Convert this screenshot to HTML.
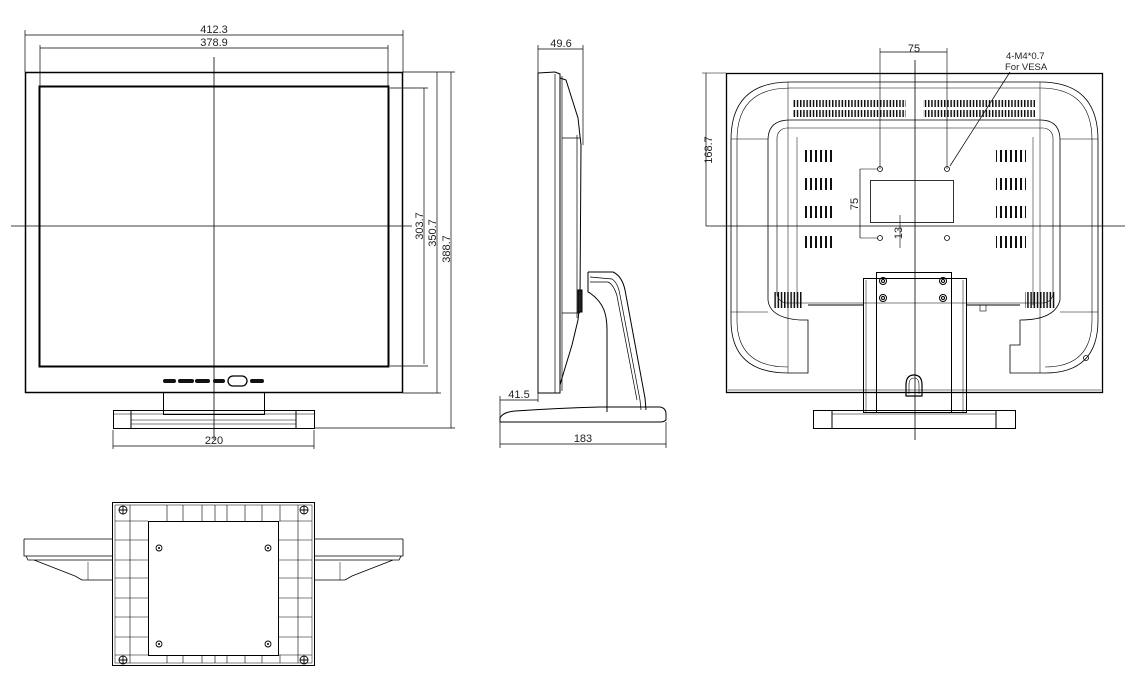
<!DOCTYPE html>
<html><head><meta charset="utf-8"><style>
html,body{margin:0;padding:0;background:#fff;width:1134px;height:688px;overflow:hidden}
svg text{font-family:"Liberation Sans",sans-serif;font-size:11px;fill:#222}
</style></head><body>
<svg width="1134" height="688" viewBox="0 0 1134 688" xmlns="http://www.w3.org/2000/svg">
<defs>
<pattern id="vs" width="3.2" height="10" patternUnits="userSpaceOnUse"><rect x="0" y="0" width="1.5" height="10" fill="#111"/></pattern>
<pattern id="vs2" width="5" height="10" patternUnits="userSpaceOnUse"><rect x="0" y="0" width="2" height="10" fill="#111"/></pattern>
</defs>
<g fill="none" stroke="#000" stroke-width="1">
<!-- FRONT VIEW -->
<line x1="25" y1="35" x2="403" y2="35" stroke-width="0.7"/>
<line x1="25" y1="30" x2="25" y2="72" stroke-width="0.7"/>
<line x1="403" y1="30" x2="403" y2="72" stroke-width="0.7"/>
<line x1="40" y1="48" x2="388" y2="48" stroke-width="0.7"/>
<line x1="40" y1="45" x2="40" y2="86" stroke-width="0.7"/>
<line x1="388" y1="45" x2="388" y2="86" stroke-width="0.7"/>
<rect x="25.5" y="72.5" width="377" height="320" stroke-width="1.5"/>
<rect x="39.5" y="86.5" width="349" height="280" stroke-width="2"/>
<line x1="214" y1="57" x2="214" y2="440" stroke-width="0.8"/>
<line x1="11" y1="226" x2="412" y2="226" stroke-width="0.8"/>
<g fill="#111" stroke="none">
<rect x="163" y="379" width="13" height="4" rx="2"/><rect x="178" y="379" width="16" height="4" rx="2"/>
<rect x="195" y="379" width="15" height="4" rx="2"/><rect x="213" y="379" width="12" height="4" rx="2"/>
<rect x="250" y="379" width="14" height="4" rx="2"/></g>
<rect x="228" y="376" width="19" height="10" rx="5" stroke-width="1.3"/>
<rect x="163.5" y="392.5" width="101" height="22"/>
<rect x="113.5" y="410.5" width="201" height="18"/>
<line x1="131" y1="410" x2="131" y2="428"/><line x1="296" y1="410" x2="296" y2="428"/>
<line x1="114" y1="414" x2="314" y2="414" stroke-width="0.6"/><line x1="131" y1="420" x2="296" y2="420" stroke-width="0.6"/><line x1="131" y1="424" x2="296" y2="424" stroke-width="0.6"/>
<line x1="113" y1="430" x2="113" y2="449" stroke-width="0.7"/><line x1="314" y1="430" x2="314" y2="449" stroke-width="0.7"/>
<line x1="113" y1="446" x2="314" y2="446" stroke-width="0.7"/>
<line x1="390" y1="88" x2="428" y2="88" stroke-width="0.7"/><line x1="390" y1="366" x2="428" y2="366" stroke-width="0.7"/>
<line x1="424" y1="88" x2="424" y2="364" stroke-width="0.7"/>
<line x1="403" y1="72" x2="455" y2="72" stroke-width="0.7"/><line x1="403" y1="393" x2="441" y2="393" stroke-width="0.7"/>
<line x1="437" y1="72" x2="437" y2="393" stroke-width="0.7"/>
<line x1="315" y1="428" x2="455" y2="428" stroke-width="0.7"/>
<line x1="451" y1="72" x2="451" y2="428" stroke-width="0.7"/>

<!-- SIDE VIEW -->
<line x1="538" y1="49" x2="583" y2="49" stroke-width="0.7"/>
<line x1="538" y1="45" x2="538" y2="73" stroke-width="0.7"/><line x1="583" y1="45" x2="583" y2="145" stroke-width="0.7"/>
<path d="M538 73 L555 72 L560 74 L560 393 L538 393 Z"/>
<line x1="555" y1="74" x2="555" y2="393" stroke-width="0.7"/>
<line x1="562" y1="76" x2="562" y2="391" stroke-width="0.7"/>
<path d="M560 78 L566 80 L578 118 L581 145 L580 300 L578 320 L572 345 L562 378 L560 385" />
<line x1="562" y1="138" x2="580" y2="138" stroke-width="0.7"/>
<line x1="562" y1="313" x2="580" y2="313" stroke-width="0.7"/>
<line x1="577" y1="135" x2="577" y2="318" stroke-width="0.7"/>
<rect x="578" y="290" width="4" height="22" fill="#222"/>
<path d="M588 272 L613 272 Q622 276 625 290 L645 398 L646 410"/>
<path d="M590 277 L612 279 Q618 283 620 295 L640 400 L641 410" stroke-width="0.7"/>
<path d="M590 282 L608 282 Q614 285 617 296 L637 400" stroke-width="0.7"/>
<path d="M588 272 L588 292 L590 293 Q600 300 604 310 Q607 318 607 330 L607 412"/>
<path d="M500 418 Q503 412 515 411 Q560 408 600 407 L660 407 Q666 408 666 414 L666 420 Q664 422 660 422 L500 422 Z"/>
<line x1="500" y1="396" x2="500" y2="448" stroke-width="0.7"/>
<line x1="500" y1="400" x2="538" y2="400" stroke-width="0.7"/>
<line x1="538" y1="393" x2="538" y2="402" stroke-width="0.7"/>
<line x1="666" y1="422" x2="666" y2="448" stroke-width="0.7"/>
<line x1="500" y1="444" x2="666" y2="444" stroke-width="0.7"/>

<!-- BACK VIEW -->
<rect x="726.5" y="73.5" width="376" height="319" stroke-width="1.3"/>
<line x1="728" y1="390" x2="1101" y2="390" stroke-width="0.6"/>
<line x1="880" y1="52" x2="947" y2="52" stroke-width="0.7"/>
<line x1="880" y1="48" x2="880" y2="169" stroke-width="0.6"/><line x1="947" y1="48" x2="947" y2="169" stroke-width="0.6"/>
<line x1="1010" y1="72" x2="950" y2="166" stroke-width="0.7"/>
<line x1="915" y1="60" x2="915" y2="440" stroke-width="0.8"/>
<line x1="706" y1="226" x2="1125" y2="226" stroke-width="0.8"/>
<line x1="702" y1="73" x2="726" y2="73" stroke-width="0.6"/>
<line x1="706" y1="73" x2="706" y2="226" stroke-width="0.7"/>
<path d="M790 82 L1040 82 Q1098 82 1098 140 L1098 320 Q1098 373 1045 373 L1010 373 L1010 345 L1020 345 L1020 320 Q1055 320 1060 300 L1060 140 Q1060 120 1040 120 L790 120 Q768 120 768 140 L768 300 Q770 318 800 320 L808 320 L808 373 L788 373 Q731 373 731 320 L731 140 Q731 82 790 82 Z" stroke-width="0.8"/>
<path d="M790 88 L1040 88 Q1092 88 1092 140 L1092 320 Q1092 367 1045 367" stroke-width="0.6"/>
<path d="M788 367 Q737 367 737 320 L737 140 Q737 88 790 88" stroke-width="0.6"/>
<rect x="777" y="128" width="276" height="175" rx="10" stroke-width="0.6"/>
<line x1="788" y1="82" x2="788" y2="373" stroke-width="0.5"/><line x1="1040" y1="82" x2="1040" y2="373" stroke-width="0.5"/>
<line x1="731" y1="139" x2="768" y2="139" stroke-width="0.5"/><line x1="1060" y1="139" x2="1098" y2="139" stroke-width="0.5"/>
<line x1="731" y1="312" x2="768" y2="312" stroke-width="0.5"/><line x1="1060" y1="312" x2="1098" y2="312" stroke-width="0.5"/>
<line x1="797" y1="137" x2="797" y2="305" stroke-width="0.5"/><line x1="1033" y1="137" x2="1033" y2="305" stroke-width="0.5"/>
<g stroke="none">
<rect x="793" y="100" width="113" height="7" fill="url(#vs)"/><rect x="793" y="110" width="113" height="7" fill="url(#vs)"/>
<rect x="923" y="100" width="112" height="7" fill="url(#vs)"/><rect x="923" y="110" width="112" height="7" fill="url(#vs)"/>
<rect x="803" y="150" width="30" height="12" fill="url(#vs2)"/><rect x="803" y="178" width="30" height="12" fill="url(#vs2)"/>
<rect x="803" y="206" width="30" height="12" fill="url(#vs2)"/><rect x="803" y="236" width="30" height="12" fill="url(#vs2)"/>
<rect x="996" y="150" width="30" height="12" fill="url(#vs2)"/><rect x="996" y="178" width="30" height="12" fill="url(#vs2)"/>
<rect x="996" y="206" width="30" height="12" fill="url(#vs2)"/><rect x="996" y="236" width="30" height="12" fill="url(#vs2)"/>
<rect x="773" y="292" width="30" height="16" fill="url(#vs)"/><rect x="1025" y="292" width="30" height="16" fill="url(#vs)"/>
</g>
<g stroke-width="0.8"><circle cx="880" cy="169" r="2.5"/><circle cx="947" cy="169" r="2.5"/><circle cx="880" cy="238" r="2.5"/><circle cx="947" cy="238" r="2.5"/></g>
<rect x="870.5" y="180.5" width="83" height="42" stroke-width="0.8"/>
<line x1="860" y1="169" x2="860" y2="238" stroke-width="0.7"/>
<line x1="860" y1="169" x2="878" y2="169" stroke-width="0.6"/><line x1="860" y1="238" x2="878" y2="238" stroke-width="0.6"/>
<line x1="900" y1="215" x2="900" y2="248" stroke-width="0.6"/>
<line x1="808" y1="305" x2="863" y2="305"/><line x1="966" y1="305" x2="1020" y2="305"/>
<rect x="863.5" y="278.5" width="103" height="134" stroke-width="1"/>
<rect x="876.5" y="272.5" width="75" height="140" stroke-width="1"/>
<line x1="866" y1="280" x2="866" y2="412" stroke-width="0.5"/><line x1="963" y1="280" x2="963" y2="412" stroke-width="0.5"/>
<g stroke-width="1"><circle cx="883" cy="281" r="3.5"/><circle cx="943" cy="281" r="3.5"/><circle cx="883" cy="298" r="3.5"/><circle cx="943" cy="298" r="3.5"/>
<circle cx="883" cy="281" r="1.5"/><circle cx="943" cy="281" r="1.5"/><circle cx="883" cy="298" r="1.5"/><circle cx="943" cy="298" r="1.5"/></g>
<path d="M906 396 L906 385 Q906 375 914 375 Q922 375 922 385 L922 396 Z" stroke-width="1.2"/>
<path d="M909 394 L909 385 Q909 378 914 378 Q919 378 919 385 L919 394" stroke-width="0.6"/>
<rect x="813.5" y="410.5" width="202" height="18"/>
<line x1="832" y1="410" x2="832" y2="428"/><line x1="996" y1="410" x2="996" y2="428"/>
<line x1="832" y1="414" x2="996" y2="414" stroke-width="0.6"/>
<circle cx="1086" cy="358" r="2.5" stroke-width="0.8"/>
<rect x="980" y="305" width="6" height="6" stroke-width="0.6"/>

<!-- BOTTOM VIEW -->
<path d="M24 539 L112 539 M24 539 L24 556 L112 556 M26 556 L28 560 L112 560 M34 560 L75 576 L82 580 L112 580" stroke-width="0.8"/>
<path d="M403 539 L315 539 M403 539 L403 556 L315 556 M401 556 L399 560 L315 560 M393 560 L352 576 L345 580 L315 580" stroke-width="0.8"/>
<line x1="88" y1="562" x2="88" y2="580" stroke-width="0.5"/><line x1="340" y1="562" x2="340" y2="580" stroke-width="0.5"/>
<rect x="112.5" y="502.5" width="202" height="163" stroke-width="1"/>
<rect x="115" y="505" width="197" height="158" stroke-width="0.5"/>
<rect x="148.5" y="521.5" width="130" height="134" stroke-width="1"/>
<g stroke-width="0.6">
<line x1="130" y1="505" x2="130" y2="663"/><line x1="298" y1="505" x2="298" y2="663"/>
<path d="M167 505V521M183 505V521M202 505V521M215 505V521M227 505V521M245 505V521M262 505V521M280 505V521"/>
<path d="M167 655V663M183 655V663M202 655V663M215 655V663M227 655V663M245 655V663M262 655V663M280 655V663"/>
<path d="M115 521H148M115 540H148M115 560H148M115 578H148M115 598H148M115 617H148M115 637H148M115 655H148"/>
<path d="M279 521H312M279 540H312M279 560H312M279 578H312M279 598H312M279 617H312M279 637H312M279 655H312"/>
</g>
<g stroke-width="0.9">
<circle cx="123" cy="510" r="4"/><circle cx="304" cy="510" r="4"/><circle cx="123" cy="660" r="4"/><circle cx="304" cy="660" r="4"/>
<path d="M119 510h8M123 506v8M300 510h8M304 506v8M119 660h8M123 656v8M300 660h8M304 656v8"/>
<circle cx="159" cy="548" r="3"/><circle cx="268" cy="548" r="3"/><circle cx="159" cy="644" r="3"/><circle cx="268" cy="644" r="3"/>
</g>
</g>
<g fill="#000"><circle cx="159" cy="548" r="1"/><circle cx="268" cy="548" r="1"/><circle cx="159" cy="644" r="1"/><circle cx="268" cy="644" r="1"/></g>

<!-- TEXT -->
<text x="214" y="33" text-anchor="middle">412.3</text>
<text x="214" y="46" text-anchor="middle">378.9</text>
<text x="214" y="444" text-anchor="middle">220</text>
<text transform="translate(423,226) rotate(-90)" text-anchor="middle">303.7</text>
<text transform="translate(436,233) rotate(-90)" text-anchor="middle">350.7</text>
<text transform="translate(450,249) rotate(-90)" text-anchor="middle">388.7</text>
<text x="561" y="47" text-anchor="middle">49.6</text>
<text x="519" y="398" text-anchor="middle">41.5</text>
<text x="583" y="442" text-anchor="middle">183</text>
<text x="914" y="52" text-anchor="middle">75</text>
<text x="1006" y="59" style="font-size:9.5px">4-M4*0.7</text>
<text x="1005" y="70" style="font-size:9.5px">For VESA</text>
<text transform="translate(712,150) rotate(-90)" text-anchor="middle">168.7</text>
<text transform="translate(858,204) rotate(-90)" text-anchor="middle">75</text>
<text transform="translate(902,233) rotate(-90)" text-anchor="middle">13</text>
</svg>
</body></html>
